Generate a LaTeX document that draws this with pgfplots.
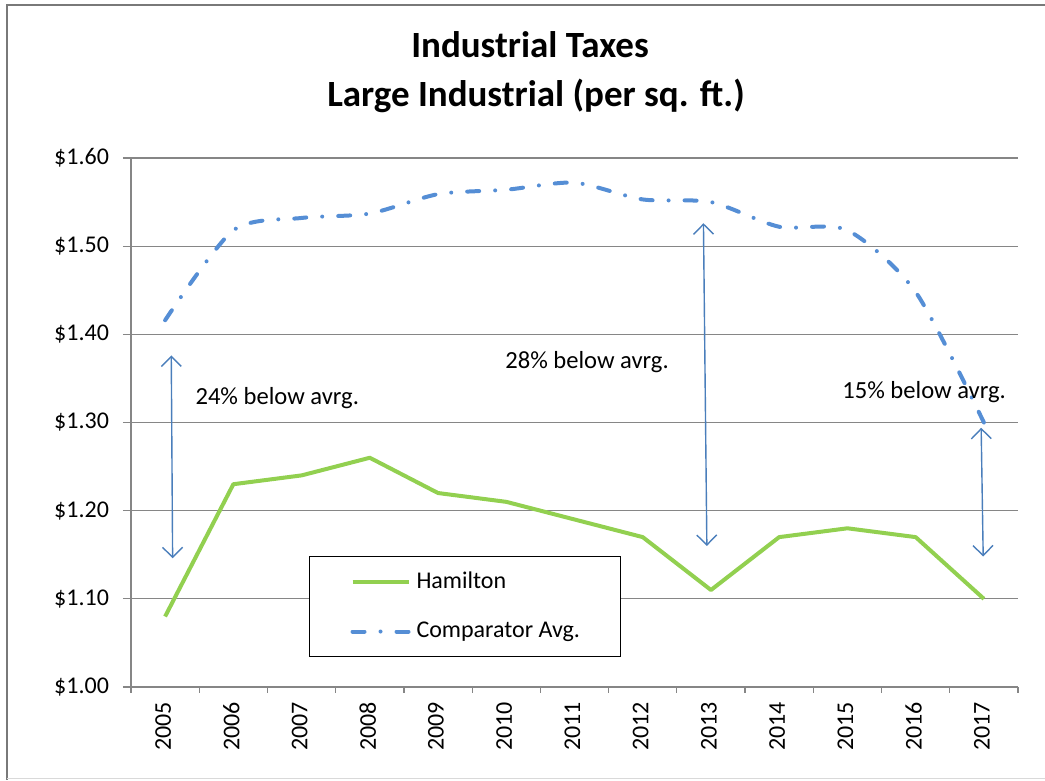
\documentclass[border=0pt]{standalone}
\usepackage{pgfplots}
\pgfplotsset{compat=1.18}
\usepackage{fontspec}
\setmainfont{Carlito}
\usetikzlibrary{arrows.meta}
\definecolor{hamgreen}{RGB}{146,208,80}
\definecolor{compblue}{RGB}{85,142,213}
\definecolor{arrblue}{RGB}{74,126,187}
\definecolor{gridgray}{RGB}{134,134,134}
\begin{document}
\begin{tikzpicture}
\useasboundingbox (0,0) rectangle (522.5pt,390.5pt);
% outer chart frame
\draw[color=gray!95!black, line width=1pt] (3.5pt,0.5pt) -- (3.5pt,388pt) -- (522.5pt,388pt);
\draw[color=gray!30, line width=0.5pt] (3.5pt,1pt) -- (522.5pt,1pt);
% title
\node[anchor=base, font=\fontsize{18.5}{21}\selectfont\bfseries] at (265pt,361.5pt) {Industrial Taxes};
\node[anchor=base, font=\fontsize{18.5}{21}\selectfont\bfseries] at (268pt,337pt) {Large Industrial (per sq. ft.)};
\begin{axis}[
  at={(65.5pt,47pt)}, anchor=south west,
  scale only axis, width=443.5pt, height=264.5pt,
  xmin=-0.5, xmax=12.5, ymin=1.0, ymax=1.6,
  axis x line*=bottom, axis y line*=left,
  axis line style={draw=gridgray, line width=0.6pt, -},
  ymajorgrids, grid style={draw=gridgray, line width=0.6pt},
  ytick={1.0,1.1,1.2,1.3,1.4,1.5,1.6},
  yticklabels={\$1.00,\$1.10,\$1.20,\$1.30,\$1.40,\$1.50,\$1.60},
  xtick={0,...,12},
  xticklabels={2005,2006,2007,2008,2009,2010,2011,2012,2013,2014,2015,2016,2017},
  minor xtick={-0.5,0.5,...,12.5},
  tick align=outside,
  major tick length=4pt, minor tick length=3pt,
  major x tick style={draw=none},
  minor x tick style={draw=gridgray, line width=0.6pt},
  major y tick style={draw=gridgray, line width=0.6pt},
  tick label style={font=\fontsize{12}{14}\selectfont},
  yticklabel style={xshift=-3.5pt},
  xticklabel style={rotate=90, anchor=east, yshift=1pt},
  legend style={at={(0.2007,0.2476)}, anchor=north west, draw=black, line width=0.5pt,
    inner xsep=20.5pt, inner ysep=0pt, row sep=0pt, column sep=3pt,
    font=\fontsize{12}{14}\selectfont,
    nodes={minimum height=25pt, inner sep=0pt, anchor=west}},
  legend cell align=left,
  legend image code/.code={\draw[#1] (0pt,0pt) -- (28pt,0pt);},
]
\addplot[color=hamgreen, line width=2pt, line join=round] coordinates {
 (0,1.08) (1,1.23) (2,1.24) (3,1.26) (4,1.22) (5,1.21) (6,1.19)
 (7,1.17) (8,1.11) (9,1.17) (10,1.18) (11,1.17) (12,1.10)};
\addlegendentry{Hamilton}
\addplot[color=compblue, line width=2pt, line cap=round, smooth, tension=0.45,
  dash pattern=on 6pt off 8pt on 0pt off 8pt] coordinates {
 (0,1.416) (1,1.518) (2,1.532) (3,1.537) (4,1.559) (5,1.564) (6,1.572)
 (7,1.553) (8,1.550) (9,1.522) (10,1.518) (11,1.448) (12,1.300)};
\addlegendentry{Comparator Avg.}
% annotations
\draw[arrblue, line width=0.7pt, {Straight Barb[length=5pt,width=10pt]}-{Straight Barb[length=5pt,width=10pt]}]
  (axis cs:0.09,1.376) -- (axis cs:0.11,1.146);
\draw[arrblue, line width=0.7pt, {Straight Barb[length=5pt,width=10pt]}-{Straight Barb[length=5pt,width=10pt]}]
  (axis cs:7.89,1.526) -- (axis cs:7.94,1.160);
\draw[arrblue, line width=0.7pt, {Straight Barb[length=5pt,width=10pt]}-{Straight Barb[length=5pt,width=10pt]}]
  (axis cs:11.96,1.294) -- (axis cs:11.99,1.148);
\node[anchor=west, inner sep=0pt, font=\fontsize{12.3}{15}\selectfont] at (axis cs:0.44,1.328) {24\% below avrg.};
\node[anchor=west, inner sep=0pt, font=\fontsize{12.3}{15}\selectfont] at (axis cs:4.98,1.368) {28\% below avrg.};
\node[anchor=west, inner sep=0pt, font=\fontsize{12.3}{15}\selectfont] at (axis cs:9.92,1.335) {15\% below avrg.};
\end{axis}
\end{tikzpicture}
\end{document}
